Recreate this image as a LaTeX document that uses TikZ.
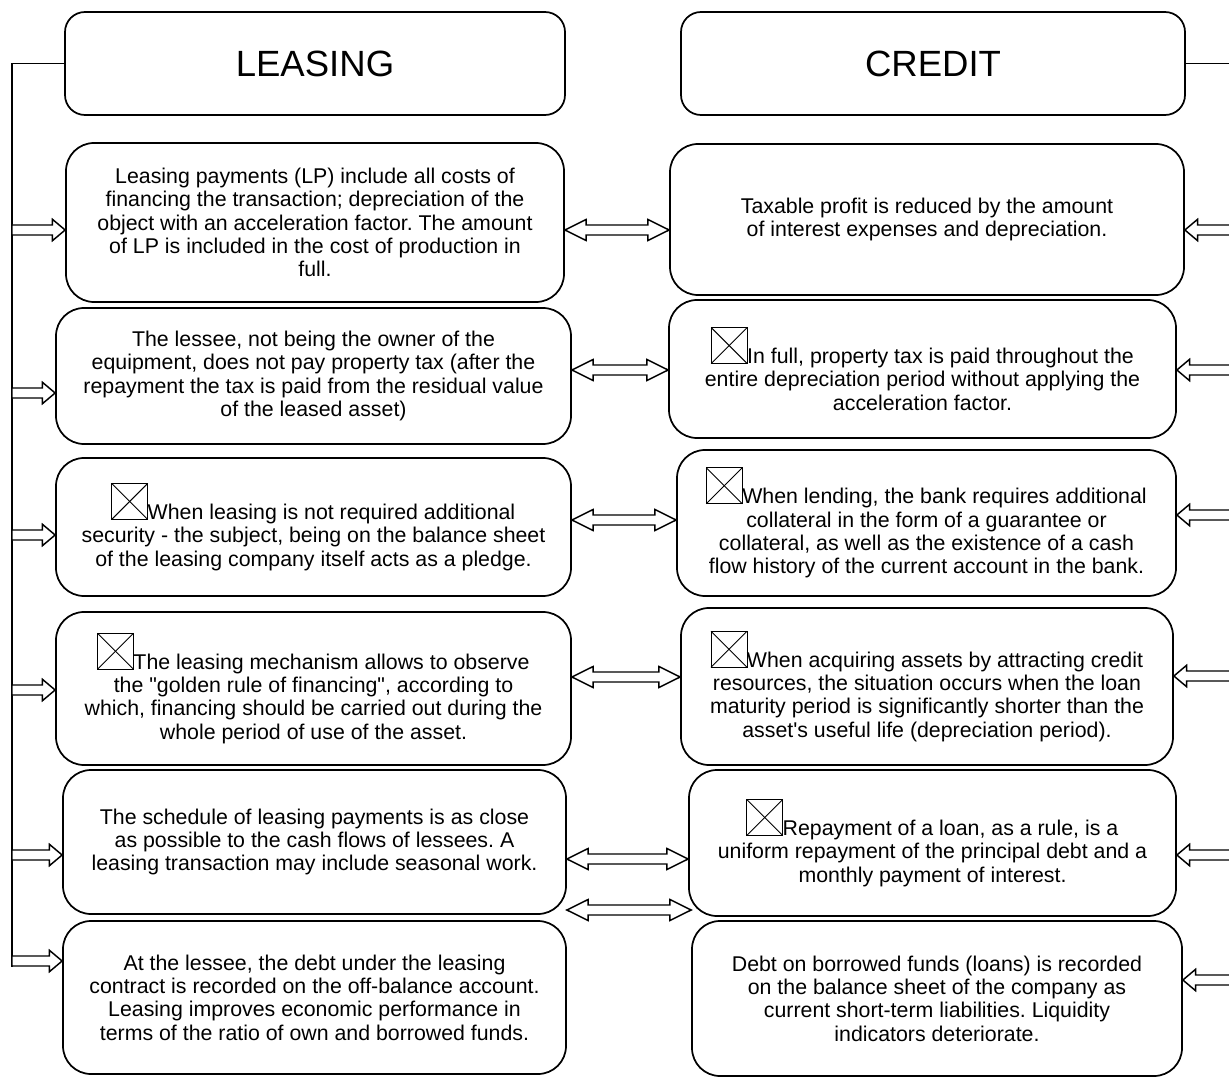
\documentclass[tikz,border=0pt]{standalone}
\usepackage{fontspec}
% plain family without TeX character mapping, so quotes stay straight
\newfontfamily\arialfont{Liberation Sans}
\usepackage{pict2e}
\usetikzlibrary{calc}

% small crossed square placed at the start of some lines
\newcommand\crossbox{\begingroup\setlength{\unitlength}{1pt}\linethickness{0.7pt}%
  \begin{picture}(27,27)\polygon(0,0)(27,0)(27,27)(0,27)\Line(0,0)(27,27)\Line(0,27)(27,0)\end{picture}\endgroup}

\begin{document}
\frenchspacing
\begin{tikzpicture}[x=0.75pt,y=-0.75pt,
  box/.style={draw, line width=1.3pt, rounded corners=21pt, align=center, inner sep=0pt,
    font=\arialfont\fontsize{16}{17.5}\selectfont},
  head/.style={box, rounded corners=15pt, font=\arialfont\fontsize{27.4}{30}\selectfont},
  wire/.style={line width=1.1pt},
  % hollow block arrow, tip at the target
  lead/.style={line width=1.1pt, fill=white, line join=miter,
    to path={let \p1=(\tikztostart), \p2=(\tikztotarget), \n1={ifthenelse(\x2>\x1,1,-1)} in
      -- ({\x1},{\y1+3.75pt}) -- ({\x2-\n1*9.5pt},{\y1+3.75pt}) -- ({\x2-\n1*9.5pt},{\y1+8pt})
      -- (\p2) -- ({\x2-\n1*9.5pt},{\y1-8pt}) -- ({\x2-\n1*9.5pt},{\y1-3.75pt})
      -- ({\x1},{\y1-3.75pt}) -- cycle}},
  % hollow block arrow with heads at both ends
  twin/.style={line width=1.1pt, fill=white, line join=miter,
    to path={let \p1=(\tikztostart), \p2=(\tikztotarget) in
      -- ({\x1+16pt},{\y1+7.9pt}) -- ({\x1+16pt},{\y1+3.75pt}) -- ({\x2-16pt},{\y1+3.75pt})
      -- ({\x2-16pt},{\y1+7.9pt}) -- (\p2) -- ({\x2-16pt},{\y1-7.9pt}) -- ({\x2-16pt},{\y1-3.75pt})
      -- ({\x1+16pt},{\y1-3.75pt}) -- ({\x1+16pt},{\y1-7.9pt}) -- cycle}}
]
\clip (0,0) rectangle (1229,1077);

% headings
\node[head, minimum width=375pt, minimum height=77.25pt] (TL) at (315,63.5) {LEASING};
\node[head, minimum width=378pt, minimum height=77.25pt] (TR) at (933,63.5) {CREDIT};

% leasing column
\node[box, minimum width=373.5pt, minimum height=119.25pt] (L1) at (315,222.5)
  {Leasing payments (LP) include all costs of\\financing the transaction; depreciation of the\\object with an acceleration factor. The amount\\of LP is included in the cost of production in\\full.};
\node[box, minimum width=386.25pt, minimum height=102pt] (L2) at (313.5,376)
  {The lessee, not being the owner of the\\equipment, does not pay property tax (after the\\repayment the tax is paid from the residual value\\of the leased asset)};
\node[box, minimum width=386.25pt, minimum height=103.5pt] (L3) at (313.5,527)
  {\crossbox When leasing is not required additional\\security - the subject, being on the balance sheet\\of the leasing company itself acts as a pledge.};
\node[box, minimum width=386.25pt, minimum height=114.75pt] (L4) at (313.5,688.5)
  {\crossbox The leasing mechanism allows to observe\\the "golden rule of financing", according to\\which, financing should be carried out during the\\whole period of use of the asset.};
\node[box, minimum width=377.25pt, minimum height=108pt] (L5) at (314.5,842)
  {The schedule of leasing payments is as close\\as possible to the cash flows of lessees. A\\leasing transaction may include seasonal work.};
\node[box, minimum width=377.25pt, minimum height=114.75pt] (L6) at (314.5,997.5)
  {At the lessee, the debt under the leasing\\contract is recorded on the off-balance account.\\Leasing improves economic performance in\\terms of the ratio of own and borrowed funds.};

% credit column
\node[box, minimum width=385.5pt, minimum height=113.25pt] (R1) at (927,219.5)
  {Taxable profit is reduced by the amount\\of interest expenses and depreciation.};
\node[box, minimum width=380.25pt, minimum height=103.5pt] (R2) at (922.5,369)
  {\crossbox In full, property tax is paid throughout the\\entire depreciation period without applying the\\acceleration factor.};
\node[box, minimum width=374.25pt, minimum height=109.5pt] (R3) at (926.5,523)
  {\crossbox When lending, the bank requires additional\\collateral in the form of a guarantee or\\collateral, as well as the existence of a cash\\flow history of the current account in the bank.};
\node[box, minimum width=369pt, minimum height=117.75pt] (R4) at (927,686.5)
  {\crossbox When acquiring assets by attracting credit\\resources, the situation occurs when the loan\\maturity period is significantly shorter than the\\asset's useful life (depreciation period).};
\node[box, minimum width=365.25pt, minimum height=109.5pt] (R5) at (932.5,843)
  {\crossbox Repayment of a loan, as a rule, is a\\uniform repayment of the principal debt and a\\monthly payment of interest.};
\node[box, minimum width=367.5pt, minimum height=116.25pt] (R6) at (937,998.5)
  {Debt on borrowed funds (loans) is recorded\\on the balance sheet of the company as\\current short-term liabilities. Liquidity\\indicators deteriorate.};

% left bracket and its arrows
\coordinate (lbot) at (12,967);
\draw[wire] (TL.west) -| (lbot);
\coordinate (bl1) at (12,230);
\coordinate (bl2) at (12,393);
\coordinate (bl3) at (12,535);
\coordinate (bl4) at (12,690);
\coordinate (bl5) at (12,855);
\coordinate (bl6) at (12,961);
\draw[lead] (bl1) to (L1.west |- bl1);
\draw[lead] (bl2) to (L2.west |- bl2);
\draw[lead] (bl3) to (L3.west |- bl3);
\draw[lead] (bl4) to (L4.west |- bl4);
\draw[lead] (bl5) to (L5.west |- bl5);
\draw[lead] (bl6) to (L6.west |- bl6);

% right bracket and its arrows
\coordinate (rtop) at (1236,63.5);
\draw[wire] (TR.east) -- (rtop);
\coordinate (br1) at (1236,230);
\coordinate (br2) at (1236,370);
\coordinate (br3) at (1236,515);
\coordinate (br4) at (1236,676);
\coordinate (br5) at (1236,855);
\coordinate (br6) at (1236,980);
\draw[lead] (br1) to (R1.east |- br1);
\draw[lead] (br2) to (R2.east |- br2);
\draw[lead] (br3) to (R3.east |- br3);
\draw[lead] (br4) to (R4.east |- br4);
\draw[lead] (br5) to (R5.east |- br5);
\draw[lead] (br6) to (R6.east |- br6);

% arrows between the columns
\coordinate (m1) at (617,230);
\coordinate (m2) at (617,370);
\coordinate (m3) at (617,520);
\coordinate (m4) at (617,677);
\coordinate (m5) at (617,859);
\coordinate (m6) at (617,910);
\draw[twin] (L1.east |- m1) to (R1.west |- m1);
\draw[twin] (L2.east |- m2) to (R2.west |- m2);
\draw[twin] (L3.east |- m3) to (R3.west |- m3);
\draw[twin] (L4.east |- m4) to (R4.west |- m4);
\draw[twin] (L5.east |- m5) to (R5.west |- m5);
\draw[twin] (L6.east |- m6) to (R6.west |- m6);
\end{tikzpicture}
\end{document}
